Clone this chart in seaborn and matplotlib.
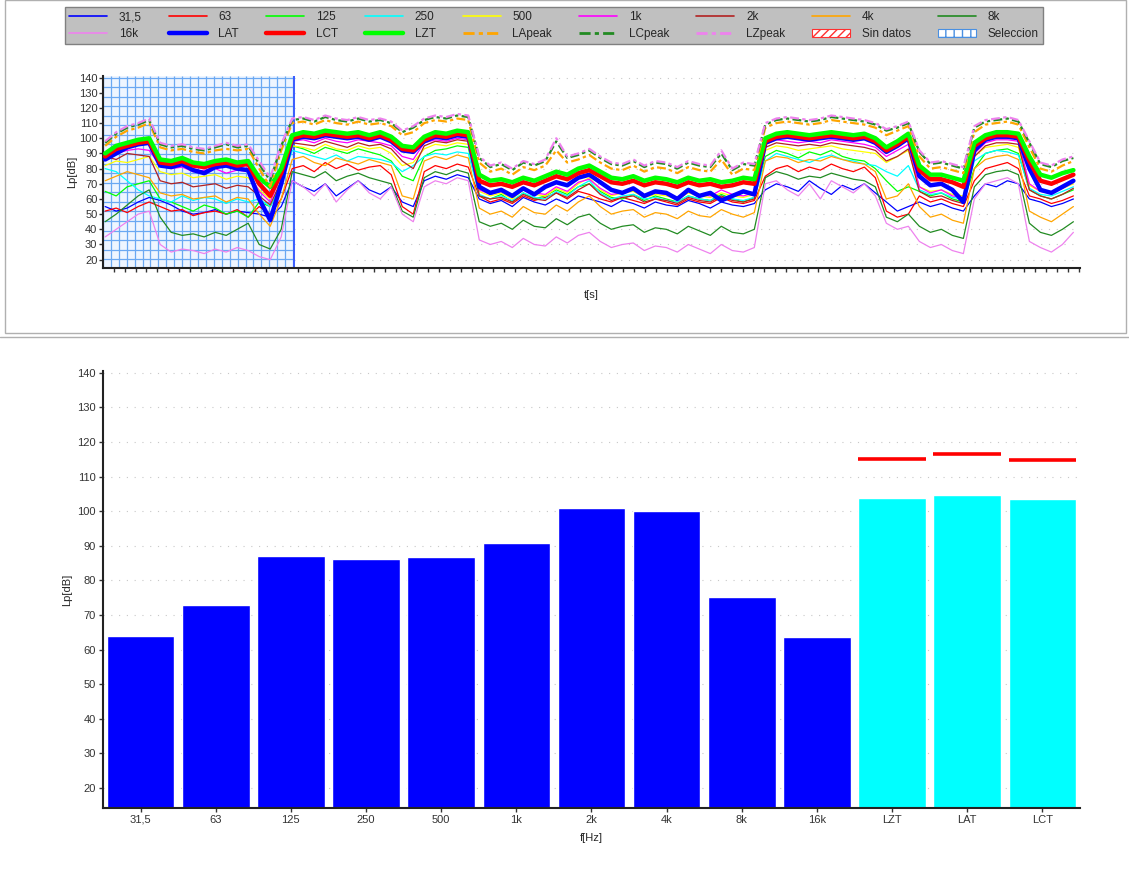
import numpy as np
import pandas as pd
import matplotlib
matplotlib.use('Agg')
import matplotlib.pyplot as plt
import matplotlib.patches as mpatches
from matplotlib.lines import Line2D
import seaborn as sns

# time axis (one value per tick, seconds)
t = list(range(89))

# band levels over time
b31 = [55,52,54,58,61, 59,56,52,50,51,53,50,52,51, 50,48,55,
       72,68,65,70,62,67,72,66,63,68,58,55,72,75,73,76,74,
       60,57,59,55,61,58,56,60,57,62,60,58,55,59,57,54,58,56,55,59,57,54,58,56,55,57,
       66,70,68,65,72,67,63,69,66,70,64,58,52, 55, 58,55,57,54,52, 62,70,68,72,70, 60,58,55,57,60]
b63 = [52,54,51,55,58, 55,52,53,49,51,52,50,53,48, 55,50,60,
       80,82,78,84,80,83,79,81,82,76,55,50,78,82,80,83,81,
       62,58,60,57,62,59,61,64,60,65,63,60,58,61,59,57,60,58,56,60,58,57,61,58,57,59,
       75,80,82,78,81,79,83,80,78,81,74,52,48, 50, 62,58,60,57,55, 72,80,82,84,80, 62,60,57,59,62]
b125 = [65,62,68,70,72, 60,58,55,52,56,54,50,52,48, 58,55,70,
        95,93,90,94,92,90,93,91,89,85,75,72,88,92,93,95,94,
        62,60,63,58,64,60,62,66,63,68,70,65,61,60,63,59,62,60,58,62,60,59,63,60,58,61,
        88,92,90,87,91,89,92,88,86,85,80,72,65, 68, 65,62,64,60,58, 80,90,92,93,90, 66,62,60,63,66]
b250 = [80,78,72,66,62, 60,58,62,59,61,60,57,60,58, 60,55,70,
        92,90,88,86,89,85,88,87,86,84,78,82,88,90,89,91,90,
        63,60,62,59,64,61,60,65,62,68,72,64,60,62,63,60,61,59,58,62,60,59,62,60,59,61,
        85,90,88,86,84,87,89,86,85,83,82,78,75, 82, 66,63,64,61,60, 85,90,92,91,89, 67,63,62,65,68]
b500 = [82,85,84,86,88, 78,76,77,74,75,76,73,75,74, 66,60,75,
        95,94,92,96,93,92,95,93,94,90,82,84,93,96,95,97,96,
        65,62,64,60,66,63,62,67,64,70,74,66,62,64,65,61,63,62,60,64,62,61,64,62,61,63,
        92,95,94,92,93,94,95,93,92,91,90,84,88, 92, 68,65,66,63,62, 88,94,95,96,94, 69,65,64,67,70]
b1k = [88,90,92,93,92, 82,80,81,78,79,80,77,79,78, 65,58,76,
       98,99,97,100,98,97,99,98,97,95,88,86,97,99,98,100,99,
       66,63,65,62,67,64,63,68,65,71,73,67,63,64,66,62,64,63,61,65,63,62,66,63,62,64,
       96,99,98,97,98,97,99,98,97,96,94,88,92, 96, 68,64,66,62,61, 90,97,99,99,98, 70,65,64,67,71]
b2k = [88,86,90,89,88, 72,70,71,68,69,70,67,69,68, 62,56,72,
       97,96,95,98,96,94,97,95,96,93,85,80,95,98,97,99,98,
       62,60,61,58,63,60,59,64,61,66,70,63,59,61,62,58,60,59,57,61,59,58,62,59,58,60,
       94,97,96,95,96,95,97,96,95,94,92,85,88, 93, 65,61,62,59,57, 88,95,97,97,96, 66,62,60,63,67]
b4k = [72,75,78,76,74, 64,62,63,60,61,62,58,61,60, 50,42,60,
       86,88,84,82,87,85,83,86,84,82,62,60,85,88,86,89,87,
       54,50,52,48,55,51,50,56,52,58,62,55,50,52,53,48,51,50,47,52,49,48,53,50,48,51,
       85,88,87,84,86,85,88,86,84,83,78,60,62, 70, 55,48,50,46,44, 80,86,88,89,86, 52,48,45,50,55]
b8k = [45,50,56,62,66, 48,38,36,37,35,38,36,40,44, 30,27,40,
       78,76,74,78,72,75,77,74,72,70,52,48,74,78,76,79,77,
       45,42,44,40,46,42,41,47,43,48,50,44,40,42,43,38,41,40,37,42,39,36,42,38,37,40,
       74,78,76,73,75,74,77,75,73,72,68,48,45, 50, 42,38,40,36,34, 68,76,78,79,76, 44,38,36,40,45]
b16k = [35,40,45,50,52, 30,25,27,26,24,27,25,28,26, 22,20,35,
        72,68,62,70,58,66,72,64,60,68,50,45,68,72,70,74,72,
        33,30,32,28,34,30,29,35,31,36,38,32,28,30,31,26,29,28,25,30,27,24,30,26,25,28,
        70,72,66,62,70,60,72,68,64,70,62,44,40, 42, 32,28,30,26,24, 60,70,72,74,70, 32,28,25,30,38]

# weighted totals
lat = [86,90,94,96,97, 82,81,83,79,77,81,82,80,79, 60,46,70,
       99,101,100,102,101,100,101,99,101,98,92,91,98,101,100,102,101,
       68,64,66,62,67,63,68,71,69,74,76,71,66,64,67,62,65,64,60,66,62,64,59,62,65,63,
       97,100,101,100,99,100,101,100,99,100,97,91,95, 100, 75,69,70,66,58, 92,99,101,101,100, 80,66,64,68,72]
lct = [88,93,95,97,98, 84,83,85,82,81,83,84,82,83, 70,62,77,
       100,102,101,103,102,101,102,100,102,99,93,92,99,102,101,103,102,
       72,69,70,68,71,69,72,75,73,77,79,75,71,70,72,69,71,70,68,71,69,70,68,69,71,70,
       98,101,102,101,100,101,102,101,100,101,98,92,96, 101, 79,73,73,71,68, 95,100,102,102,101, 85,72,70,73,76]
lzt = [90,95,97,99,100, 86,85,87,84,83,85,86,84,85, 74,68,80,
       102,104,103,105,104,103,104,102,104,101,95,94,101,104,103,105,104,
       76,72,73,71,74,72,75,78,76,80,82,78,74,73,75,72,74,73,71,74,72,73,71,72,74,73,
       100,103,104,103,102,103,104,103,102,103,100,94,98, 103, 82,76,76,74,72, 97,102,104,104,103, 88,76,74,77,79]

# peak levels
lapeak = [95,101,105,107,110, 94,92,93,91,90,92,93,92,93, 80,68,92,
          110,111,109,112,110,109,111,109,110,108,102,104,110,112,111,113,112,
          84,78,80,76,81,79,82,92,84,86,89,84,80,79,82,78,81,80,77,81,79,78,86,76,80,79,
          107,110,111,110,109,110,112,111,110,109,107,102,105, 108, 88,80,81,79,77, 104,109,110,111,109, 94,80,78,82,85]
lcpeak = [97,103,107,109,112, 96,94,95,93,92,94,96,94,95, 83,72,95,
          112,113,111,114,112,111,113,111,112,110,104,107,112,114,113,115,114,
          87,81,83,79,84,82,85,98,87,89,92,87,83,82,85,81,84,83,80,84,82,81,90,79,83,82,
          109,112,113,112,111,112,114,113,112,111,109,105,107, 110, 91,83,84,82,80, 107,111,112,113,111, 97,83,81,85,87]
lzpeak = [98,104,108,110,113, 97,95,96,94,93,95,97,95,96, 85,74,96,
          113,114,112,115,113,112,114,112,113,111,105,108,113,115,114,116,115,
          88,82,84,80,85,83,86,100,88,90,93,88,84,83,86,82,85,84,81,85,83,82,92,80,84,83,
          110,113,114,113,112,113,115,114,113,112,110,106,108, 111, 92,84,85,83,81, 108,112,113,114,112, 98,84,82,86,88]

# spectrum of the selection
bar_labels = ['31,5','63','125','250','500','1k','2k','4k','8k','16k','LZT','LAT','LCT']
bar_values = [63.9, 72.9, 87.1, 86.3, 86.8, 90.8, 101.0, 100.1, 75.2, 63.7, 103.9, 104.6, 103.4]
peak_labels = ['LZT','LAT','LCT']
peak_values = [115.2, 116.4, 114.9]

sns.set_style('white')
plt.rcParams['font.family'] = ['Liberation Sans', 'DejaVu Sans']
plt.rcParams['font.size'] = 8

fig = plt.figure(figsize=(11.29, 8.77), dpi=100)
ax1 = fig.add_axes([0.0912, 0.6944, 0.8654, 0.2189])
ax2 = fig.add_axes([0.0912, 0.0787, 0.8654, 0.4983])

# ---- top: time history ----
x0, x1 = -0.2, 88.6
sel_end = 17.2
ax1.axvspan(x0, sel_end, color='#eef5ff', zorder=0)
ax1.vlines(np.arange(x0, sel_end, 0.72), 14.5, 141, color='#6aa8f2', lw=0.9, zorder=1)
ax1.hlines(np.arange(140, 14.5, -6.3), x0, sel_end, color='#6aa8f2', lw=0.9, zorder=1)
ax1.axvline(sel_end, color='#3a5cff', lw=1.4, zorder=1)
for y in range(20, 141, 10):
    ax1.plot([sel_end, x1], [y, y], color='#c8c8c8', lw=0.8, ls=(0, (1, 6)), zorder=0.5)

band_series = [
    ('31,5', b31, '#0000ff'), ('63', b63, '#ff0000'), ('125', b125, '#00ff00'),
    ('250', b250, '#00ffff'), ('500', b500, '#ffff00'), ('1k', b1k, '#ff00ff'),
    ('2k', b2k, '#b22222'), ('4k', b4k, '#ffa500'), ('8k', b8k, '#228b22'),
    ('16k', b16k, '#ee82ee'),
]
for name, vals, col in band_series:
    sns.lineplot(x=t, y=vals, color=col, lw=0.9, ax=ax1, legend=False, zorder=2)

sns.lineplot(x=t, y=lat, color='#0000ff', lw=3.2, ax=ax1, legend=False, zorder=3)
sns.lineplot(x=t, y=lct, color='#ff0000', lw=3.2, ax=ax1, legend=False, zorder=3)
sns.lineplot(x=t, y=lzt, color='#00ff00', lw=3.2, ax=ax1, legend=False, zorder=3)

dd = (0, (4, 1.5, 1.5, 1.5))
for vals, col in [(lapeak, '#ffa500'), (lcpeak, '#228b22'), (lzpeak, '#ee82ee')]:
    ln = sns.lineplot(x=t, y=vals, color=col, lw=1.6, ax=ax1, legend=False, zorder=4)
    ln.lines[-1].set_linestyle(dd)

ax1.set_xlim(x0, x1)
ax1.set_ylim(14.5, 141)
ax1.set_yticks(range(20, 141, 10))
ax1.set_xticks(np.arange(0.8, x1, 0.985))
ax1.set_xticklabels([])
ax1.set_xlabel('t[s]', fontsize=8, labelpad=12)
ax1.set_ylabel('Lp[dB]', fontsize=8, labelpad=1)
ax1.tick_params(axis='both', direction='out', length=3, width=1, colors='#333333', labelsize=8,
                pad=1, bottom=True, left=True)
for s in ['top', 'right']:
    ax1.spines[s].set_visible(False)
for s in ['left', 'bottom']:
    ax1.spines[s].set_color('#222222')
    ax1.spines[s].set_linewidth(1.5)

# legend box
r1 = [('31,5', '#0000ff', 1.2, '-'), ('63', '#ff0000', 1.2, '-'), ('125', '#00ff00', 1.2, '-'),
      ('250', '#00ffff', 1.2, '-'), ('500', '#ffff00', 1.2, '-'), ('1k', '#ff00ff', 1.2, '-'),
      ('2k', '#b22222', 1.2, '-'), ('4k', '#ffa500', 1.2, '-'), ('8k', '#228b22', 1.2, '-')]
r2 = [('16k', '#ee82ee', 1.2, '-'), ('LAT', '#0000ff', 3.2, '-'), ('LCT', '#ff0000', 3.2, '-'),
      ('LZT', '#00ff00', 3.2, '-'), ('LApeak', '#ffa500', 2, dd), ('LCpeak', '#228b22', 2, dd),
      ('LZpeak', '#ee82ee', 2, dd)]
h1 = [Line2D([], [], color=c, lw=w, ls=s) for _, c, w, s in r1]
h2 = [Line2D([], [], color=c, lw=w, ls=s) for _, c, w, s in r2]
h2.append(mpatches.Patch(facecolor='white', edgecolor='#ff3030', hatch='////', lw=0.8))
h2.append(mpatches.Patch(facecolor='white', edgecolor='#4a90e2', hatch='++', lw=0.8))
l1 = [n for n, *_ in r1]
l2 = [n for n, *_ in r2] + ['Sin datos', 'Seleccion']
handles, labels = [], []
for i in range(9):
    handles += [h1[i], h2[i]]
    labels += [l1[i], l2[i]]
leg = fig.legend(handles, labels, ncol=9, loc='upper left',
                 bbox_to_anchor=(0.0576, 0.95, 0.866, 0.042), mode='expand',
                 borderaxespad=0, fontsize=8.5, handlelength=3.2, handletextpad=1.0,
                 labelspacing=0.4, borderpad=0.35, fancybox=False, framealpha=1)
leg.get_frame().set_facecolor('#c0c0c0')
leg.get_frame().set_edgecolor('#808080')

# panel frames
fig.add_artist(mpatches.Rectangle((5 / 1129, 1 - 333 / 877), 1121 / 1129, 333 / 877,
                                  transform=fig.transFigure, fill=False, ec='#b0b0b0', lw=1))
fig.add_artist(Line2D([0, 1], [1 - 337 / 877, 1 - 337 / 877], transform=fig.transFigure,
                      color='#b0b0b0', lw=1))

# ---- bottom: spectrum ----
bar_colors = ['#0000ff'] * 10 + ['#00ffff'] * 3
df = pd.DataFrame({'band': bar_labels, 'level': bar_values})
sns.barplot(data=df, x='band', y='level', hue='band', palette=bar_colors, legend=False,
            width=0.9, saturation=1, ax=ax2, zorder=2)
pos = [bar_labels.index(p) for p in peak_labels]
ax2.hlines(peak_values, [p - 0.45 for p in pos], [p + 0.45 for p in pos],
           color='#ff0000', lw=2.6, zorder=3)
for y in range(20, 141, 10):
    ax2.axhline(y, color='#c8c8c8', lw=0.8, ls=(0, (1, 6)), zorder=0.5)
ax2.set_xlim(-0.5, 12.5)
ax2.set_ylim(14.2, 140.5)
ax2.set_yticks(range(20, 141, 10))
ax2.set_xlabel('f[Hz]', fontsize=8, labelpad=6)
ax2.set_ylabel('Lp[dB]', fontsize=8, labelpad=4)
ax2.tick_params(axis='both', direction='out', length=3, width=1, colors='#333333', labelsize=8,
                pad=2, bottom=True, left=True)
for s in ['top', 'right']:
    ax2.spines[s].set_visible(False)
for s in ['left', 'bottom']:
    ax2.spines[s].set_color('#222222')
    ax2.spines[s].set_linewidth(1.5)

fig.savefig('out.png', dpi=100)
